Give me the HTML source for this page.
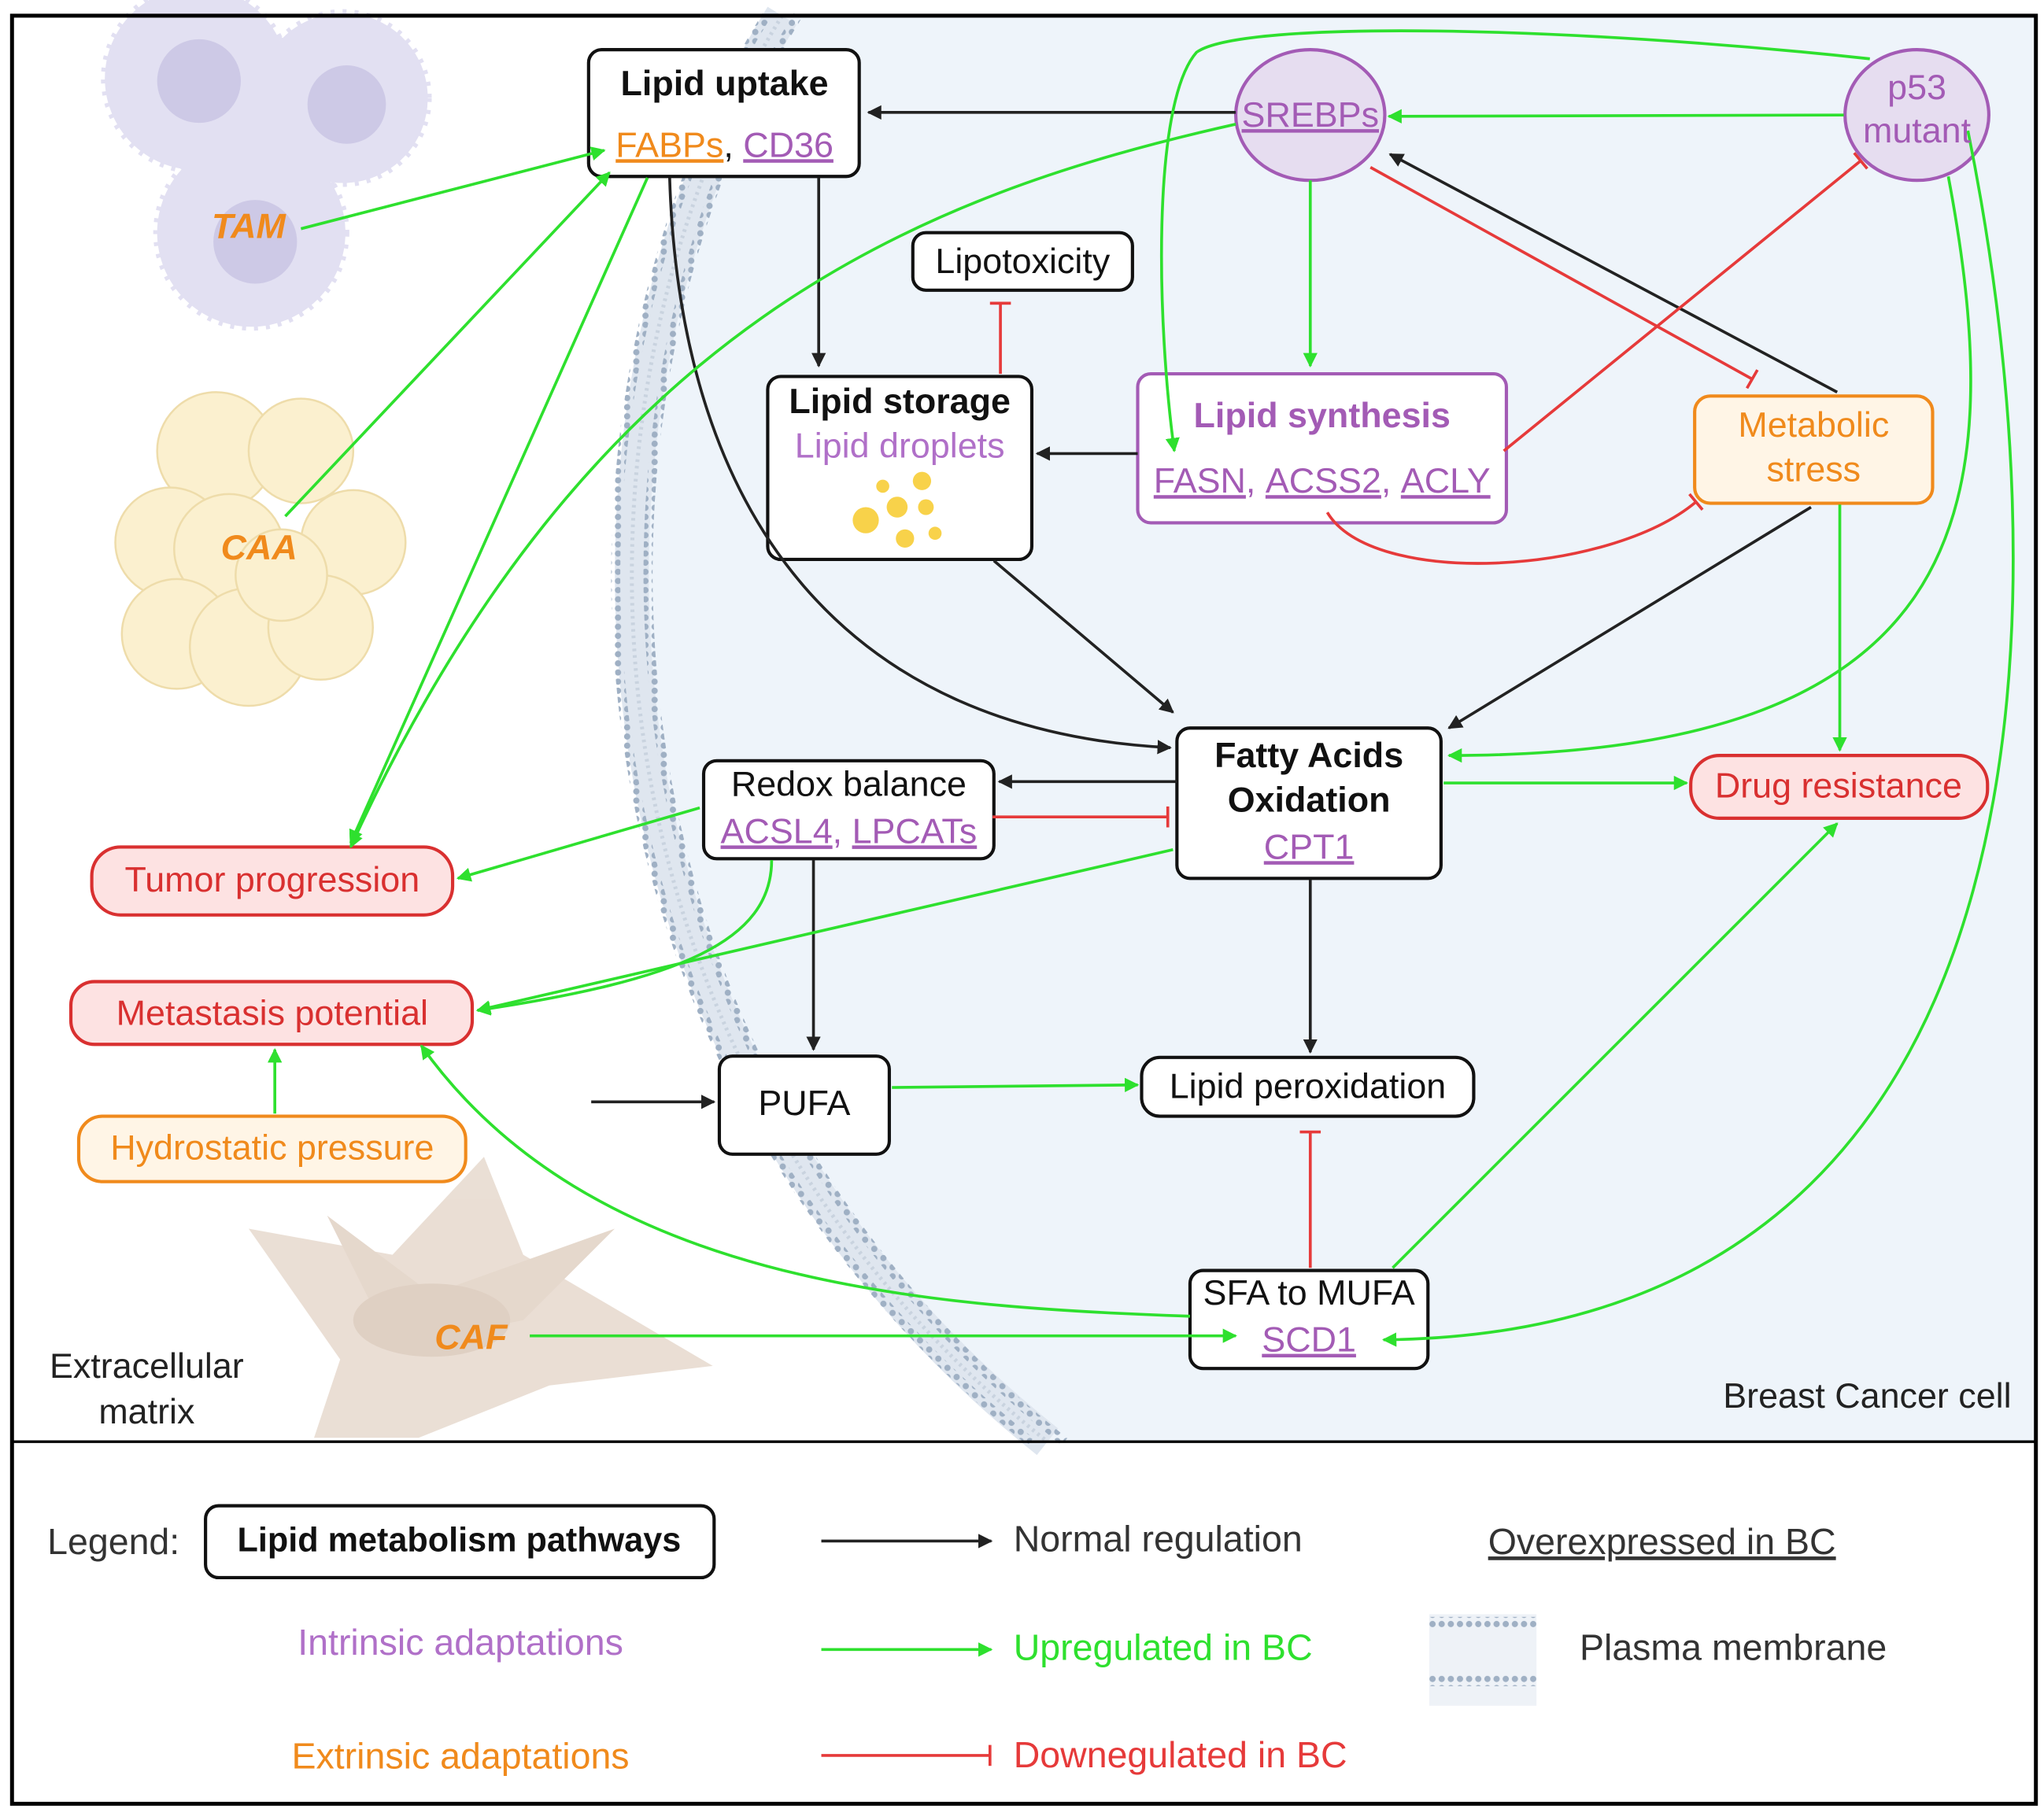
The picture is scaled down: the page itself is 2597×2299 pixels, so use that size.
<!DOCTYPE html>
<html><head><meta charset="utf-8"><style>
html,body{margin:0;padding:0;background:#fff;}
svg{display:block;}
text{font-family:"Liberation Sans",sans-serif;}
</style></head><body>
<svg width="2597" height="2299" viewBox="0 0 1563 1384" xmlns="http://www.w3.org/2000/svg">
<defs>
<marker id="ab" viewBox="0 0 10 10" refX="9" refY="5" markerWidth="5" markerHeight="5" orient="auto-start-reverse"><path d="M0,0 L10,5 L0,10 z" fill="#222"/></marker>
<marker id="ag" viewBox="0 0 10 10" refX="9" refY="5" markerWidth="5" markerHeight="5" orient="auto-start-reverse"><path d="M0,0 L10,5 L0,10 z" fill="#2ee02e"/></marker>
<pattern id="mem" width="7" height="7" patternUnits="userSpaceOnUse"><circle cx="3.5" cy="3.5" r="2.4" fill="#9fb0c4"/></pattern>
</defs>
<rect x="0" y="0" width="1563" height="1384" fill="#fff"/>
<path d="M600,12 C420,300 420,800 800,1103 L1557,1103 L1557,12 Z" fill="#eef4fa"/>
<path d="M598,12 C420,300 421,800 801,1103" fill="none" stroke="#dfe6ef" stroke-width="26"/>
<path d="M586,12 C408,300 408,800 788,1103" fill="none" stroke="url(#mem)" stroke-width="7"/>
<path d="M610,12 C432,300 434,800 814,1103" fill="none" stroke="url(#mem)" stroke-width="7"/>
<path d="M598,12 C420,300 421,800 801,1103" fill="none" stroke="#c9d3df" stroke-width="3" stroke-dasharray="2 3"/>
<!-- TAM cells -->
<g fill="#e2e0f2" stroke="#e2e0f2" stroke-width="6" stroke-dasharray="3 6" stroke-linejoin="round">
<circle cx="150" cy="60" r="70"/><circle cx="262" cy="75" r="65"/><circle cx="192" cy="178" r="72"/>
</g>
<g fill="#cdc9e6"><circle cx="152" cy="62" r="32"/><circle cx="265" cy="80" r="30"/><circle cx="195" cy="185" r="32"/></g>
<!-- CAA cells -->
<g fill="#fbf0cf" stroke="#eedcaa" stroke-width="1.5">
<circle cx="165" cy="345" r="45"/><circle cx="230" cy="345" r="40"/><circle cx="130" cy="415" r="42"/><circle cx="270" cy="415" r="40"/>
<circle cx="175" cy="420" r="42"/><circle cx="135" cy="485" r="42"/><circle cx="190" cy="495" r="45"/><circle cx="245" cy="480" r="40"/><circle cx="215" cy="440" r="35"/>
</g>
<!-- CAF cells -->
<g fill="#e8dbd0" opacity="0.9">
<path d="M190,940 L300,960 L370,885 L400,960 L545,1045 L420,1060 L320,1100 L240,1100 L260,1040 Z"/>
<path d="M250,930 L330,990 L470,940 L400,1010 L300,1030 Z" fill="#e3d4c7"/>
<ellipse cx="330" cy="1010" rx="60" ry="28" fill="#dccbbd"/>
</g>
<rect x="9" y="12" width="1548" height="1368" fill="none" stroke="#000" stroke-width="3"/>
<line x1="9" y1="1103" x2="1557" y2="1103" stroke="#000" stroke-width="2"/>

<!-- nodes -->
<g stroke-width="2.5">
<rect x="450" y="38" width="207" height="97" rx="10" fill="#fff" stroke="#111"/>
<ellipse cx="1002" cy="88" rx="57" ry="50" fill="#e6ddf0" stroke="#a35bb5"/>
<ellipse cx="1466" cy="88" rx="55" ry="50" fill="#e6ddf0" stroke="#a35bb5"/>
<rect x="698" y="178" width="168" height="44" rx="10" fill="#fff" stroke="#111"/>
<rect x="587" y="288" width="202" height="140" rx="10" fill="#fff" stroke="#111"/>
<rect x="870" y="286" width="282" height="114" rx="10" fill="#fff" stroke="#a35bb5"/>
<rect x="1296" y="303" width="182" height="82" rx="12" fill="#fff5e6" stroke="#f08a1c"/>
<rect x="900" y="557" width="202" height="115" rx="10" fill="#fff" stroke="#111"/>
<rect x="538" y="582" width="222" height="75" rx="10" fill="#fff" stroke="#111"/>
<rect x="1293" y="578" width="227" height="48" rx="22" fill="#fde2e2" stroke="#d93030"/>
<rect x="70" y="648" width="276" height="52" rx="22" fill="#fde2e2" stroke="#d93030"/>
<rect x="54" y="751" width="307" height="48" rx="18" fill="#fde2e2" stroke="#d93030"/>
<rect x="60" y="854" width="296" height="50" rx="18" fill="#fff5e6" stroke="#f08a1c"/>
<rect x="550" y="808" width="130" height="75" rx="10" fill="#fff" stroke="#111"/>
<rect x="873" y="809" width="254" height="45" rx="14" fill="#fff" stroke="#111"/>
<rect x="910" y="972" width="182" height="75" rx="10" fill="#fff" stroke="#111"/>
<rect x="157" y="1152" width="389" height="55" rx="10" fill="#fff" stroke="#111"/>
</g>
<g fill="#f8d24a"><circle cx="662" cy="398" r="10"/><circle cx="686" cy="388" r="8"/><circle cx="705" cy="368" r="7"/><circle cx="675" cy="372" r="5"/><circle cx="708" cy="388" r="6"/><circle cx="692" cy="412" r="7"/><circle cx="715" cy="408" r="5"/></g>

<!-- connectors black -->
<g fill="none" stroke="#222" stroke-width="2.2">
<line x1="945" y1="86" x2="664" y2="86" marker-end="url(#ab)"/>
<line x1="626" y1="136" x2="626" y2="280" marker-end="url(#ab)"/>
<line x1="870" y1="347" x2="793" y2="347" marker-end="url(#ab)"/>
<line x1="1405" y1="300" x2="1063" y2="118" marker-end="url(#ab)"/>
<line x1="1385" y1="388" x2="1108" y2="557" marker-end="url(#ab)"/>
<path d="M512,136 C520,400 650,560 895,572" marker-end="url(#ab)"/>
<line x1="760" y1="429" x2="897" y2="545" marker-end="url(#ab)"/>
<line x1="900" y1="598" x2="764" y2="598" marker-end="url(#ab)"/>
<line x1="622" y1="658" x2="622" y2="803" marker-end="url(#ab)"/>
<line x1="452" y1="843" x2="546" y2="843" marker-end="url(#ab)"/>
<line x1="1002" y1="673" x2="1002" y2="805" marker-end="url(#ab)"/>
</g>
<!-- connectors green -->
<g fill="none" stroke="#2ee02e" stroke-width="2.2">
<line x1="1410" y1="88" x2="1062" y2="89" marker-end="url(#ag)"/>
<line x1="1002" y1="138" x2="1002" y2="280" marker-end="url(#ag)"/>
<line x1="1407" y1="386" x2="1407" y2="574" marker-end="url(#ag)"/>
<path d="M1490,135 C1540,400 1500,578 1108,578" marker-end="url(#ag)"/>
<path d="M1505,100 C1570,420 1600,1020 1058,1025" marker-end="url(#ag)"/>
<path d="M1430,45 C1200,20 950,15 915,40 C880,80 885,250 898,345" marker-end="url(#ag)"/>
<path d="M945,95 C700,150 450,250 268,648" marker-end="url(#ag)"/>
<line x1="495" y1="136" x2="268" y2="645" marker-end="url(#ag)"/>
<line x1="218" y1="395" x2="466" y2="132" marker-end="url(#ag)"/>
<line x1="230" y1="175" x2="462" y2="115" marker-end="url(#ag)"/>
<line x1="1104" y1="599" x2="1290" y2="599" marker-end="url(#ag)"/>
<line x1="535" y1="618" x2="350" y2="672" marker-end="url(#ag)"/>
<path d="M590,658 C590,720 520,750 365,773" marker-end="url(#ag)"/>
<line x1="897" y1="650" x2="365" y2="773" marker-end="url(#ag)"/>
<line x1="682" y1="832" x2="870" y2="830" marker-end="url(#ag)"/>
<line x1="1065" y1="970" x2="1405" y2="630" marker-end="url(#ag)"/>
<path d="M910,1007 C700,1000 450,980 322,800" marker-end="url(#ag)"/>
<line x1="405" y1="1022" x2="945" y2="1022" marker-end="url(#ag)"/>
<line x1="210" y1="852" x2="210" y2="803" marker-end="url(#ag)"/>
</g>
<!-- connectors red -->
<g fill="none" stroke="#e63a3a" stroke-width="2.2">
<line x1="765" y1="286" x2="765" y2="232"/><line x1="757" y1="232" x2="773" y2="232"/>
<line x1="1150" y1="345" x2="1423" y2="123"/><line x1="1418" y1="117" x2="1428" y2="129"/>
<line x1="1048" y1="128" x2="1340" y2="290"/><line x1="1336" y1="297" x2="1344" y2="283"/>
<path d="M1015,392 C1050,450 1230,440 1297,384"/><line x1="1292" y1="378" x2="1302" y2="390"/>
<line x1="759" y1="625" x2="893" y2="625"/><line x1="893" y1="617" x2="893" y2="633"/>
<line x1="1002" y1="970" x2="1002" y2="866"/><line x1="994" y1="866" x2="1010" y2="866"/>
</g>

<!-- texts -->
<g font-size="27" text-anchor="middle">
<text x="554" y="73" font-weight="bold" fill="#111">Lipid uptake</text>
<text x="554" y="120" fill="#111"><tspan fill="#f08a1c" text-decoration="underline">FABPs</tspan>, <tspan fill="#a35bb5" text-decoration="underline">CD36</tspan></text>
<text x="1002" y="97" fill="#a35bb5" text-decoration="underline">SREBPs</text>
<text x="1466" y="76" fill="#a35bb5">p53</text>
<text x="1466" y="109" fill="#a35bb5">mutant</text>
<text x="782" y="209" fill="#111">Lipotoxicity</text>
<text x="688" y="316" font-weight="bold" fill="#111">Lipid storage</text>
<text x="688" y="350" fill="#b070c8">Lipid droplets</text>
<text x="1011" y="327" font-weight="bold" fill="#a35bb5">Lipid synthesis</text>
<text x="1011" y="377" fill="#a35bb5"><tspan text-decoration="underline">FASN</tspan>, <tspan text-decoration="underline">ACSS2</tspan>, <tspan text-decoration="underline">ACLY</tspan></text>
<text x="1387" y="334" fill="#f08a1c">Metabolic</text>
<text x="1387" y="368" fill="#f08a1c">stress</text>
<text x="1001" y="587" font-weight="bold" fill="#111">Fatty Acids</text>
<text x="1001" y="621" font-weight="bold" fill="#111">Oxidation</text>
<text x="1001" y="657" fill="#a35bb5" text-decoration="underline">CPT1</text>
<text x="649" y="609" fill="#111">Redox balance</text>
<text x="649" y="645" fill="#a35bb5"><tspan text-decoration="underline">ACSL4</tspan>, <tspan text-decoration="underline">LPCATs</tspan></text>
<text x="1406" y="610" fill="#d93030">Drug resistance</text>
<text x="208" y="682" fill="#d93030">Tumor progression</text>
<text x="208" y="784" fill="#d93030">Metastasis potential</text>
<text x="208" y="887" fill="#f08a1c">Hydrostatic pressure</text>
<text x="615" y="853" fill="#111">PUFA</text>
<text x="1000" y="840" fill="#111">Lipid peroxidation</text>
<text x="1001" y="998" fill="#111">SFA to MUFA</text>
<text x="1001" y="1034" fill="#a35bb5" text-decoration="underline">SCD1</text>
<text x="190" y="182" font-weight="bold" font-style="italic" fill="#f08a1c">TAM</text>
<text x="198" y="428" font-weight="bold" font-style="italic" fill="#f08a1c">CAA</text>
<text x="360" y="1032" font-weight="bold" font-style="italic" fill="#f08a1c">CAF</text>
<text x="112" y="1054" fill="#222">Extracellular</text>
<text x="112" y="1089" fill="#222">matrix</text>
<text x="1428" y="1077" fill="#222">Breast Cancer cell</text>
</g>
<g font-size="28">
<text x="36" y="1189" fill="#333">Legend:</text>
<text x="351" y="1187" text-anchor="middle" font-weight="bold" fill="#111" font-size="26">Lipid metabolism pathways</text>
<text x="352" y="1266" text-anchor="middle" fill="#b070c8">Intrinsic adaptations</text>
<text x="352" y="1353" text-anchor="middle" fill="#f08a1c">Extrinsic adaptations</text>
<text x="775" y="1187" fill="#333">Normal regulation</text>
<text x="775" y="1270" fill="#2ee02e">Upregulated in BC</text>
<text x="775" y="1352" fill="#e63a3a">Downegulated in BC</text>
<text x="1138" y="1189" fill="#333" text-decoration="underline">Overexpressed in BC</text>
<text x="1208" y="1270" fill="#333">Plasma membrane</text>
</g>
<line x1="628" y1="1179" x2="758" y2="1179" stroke="#222" stroke-width="2.2" marker-end="url(#ab)"/>
<line x1="628" y1="1262" x2="758" y2="1262" stroke="#2ee02e" stroke-width="2.2" marker-end="url(#ag)"/>
<line x1="628" y1="1343" x2="757" y2="1343" stroke="#e63a3a" stroke-width="2.2"/>
<line x1="757" y1="1335" x2="757" y2="1351" stroke="#e63a3a" stroke-width="2.2"/>
<rect x="1093" y="1235" width="82" height="70" fill="#eef2f7"/>
<rect x="1093" y="1237" width="82" height="8" fill="url(#mem)"/>
<rect x="1093" y="1282" width="82" height="8" fill="url(#mem)"/>
</svg>
</body></html>
